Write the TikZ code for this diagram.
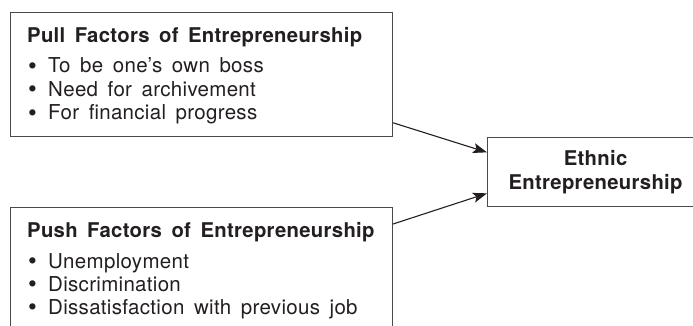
\documentclass[tikz,border=0pt]{standalone}
\usepackage{fontspec}
\usetikzlibrary{arrows.meta,calc}
\newfontfamily\bodyfont{TeX Gyre Heros}[LetterSpace=1.5,WordSpace=1.6]
\definecolor{ink}{HTML}{231F20}
\definecolor{frame}{HTML}{4A4A4A}
\tikzset{
  box/.style={draw=frame, line width=1.1pt, inner sep=0pt, rectangle},
  headtext/.style={anchor=base west, inner sep=0pt, text=ink,
    font=\bodyfont\bfseries\fontsize{20.3pt}{24pt}\selectfont},
  itemtext/.style={anchor=base west, inner sep=0pt, text=ink,
    font=\bodyfont\fontsize{20.5pt}{24pt}\selectfont},
  bulletmark/.style={anchor=base, inner sep=0pt, text=ink,
    font=\bodyfont\fontsize{25pt}{24pt}\selectfont},
  centretext/.style={text=ink, align=center,
    font=\bodyfont\bfseries\fontsize{20.3pt}{23.5pt}\selectfont},
  arr/.style={draw=ink, line width=1.1pt,
    -{Stealth[length=14pt,width=10pt,inset=3pt]}}
}
\begin{document}
\begin{tikzpicture}[x=1pt,y=-1pt]
\clip (0,0) rectangle (693,326);
\fill[white] (0,0) rectangle (693,326);

% pull factors
\node[box, minimum width=382pt, minimum height=124pt, anchor=north west] (pull) at (10,12) {};
\node[headtext] (pullhead) at (27,42.5) {Pull Factors of Entrepreneurship};
\node[bulletmark] (pb1) at (32.5,74.5) {\textbullet};
\node[itemtext] (pi1) at (48,73) {To be one’s own boss};
\node[bulletmark] (pb2) at (32.5,98) {\textbullet};
\node[itemtext] (pi2) at (48,96.5) {Need for archivement};
\node[bulletmark] (pb3) at (32.5,121.5) {\textbullet};
\node[itemtext] (pi3) at (48,120) {For financial progress};

% push factors (box runs past the lower edge)
\node[box, minimum width=382pt, minimum height=140pt, anchor=north west] (push) at (10,207) {};
\node[headtext] (pushhead) at (27,237.3) {Push Factors of Entrepreneurship};
\node[bulletmark] (qb1) at (32.5,269.8) {\textbullet};
\node[itemtext] (qi1) at (48,268.3) {Unemployment};
\node[bulletmark] (qb2) at (32.5,292.8) {\textbullet};
\node[itemtext] (qi2) at (48,291.3) {Discrimination};
\node[bulletmark] (qb3) at (32.5,315.8) {\textbullet};
\node[itemtext] (qi3) at (48,314.3) {Dissatisfaction with previous job};

% outcome box (runs past the right edge)
\node[box, centretext, minimum width=216pt, minimum height=69pt, anchor=north west] (ethnic) at (487,137.3) {Ethnic\\Entrepreneurship};

% connectors
\coordinate (pullout) at ($(pull.south east)+(0,-14.3)$);
\coordinate (pushout) at ($(push.north east)+(0,17)$);
\draw[arr] (pullout) -- ($(ethnic.west)+(0,-20)$);
\draw[arr] (pushout) -- ($(ethnic.west)+(0,21)$);
\end{tikzpicture}
\end{document}
